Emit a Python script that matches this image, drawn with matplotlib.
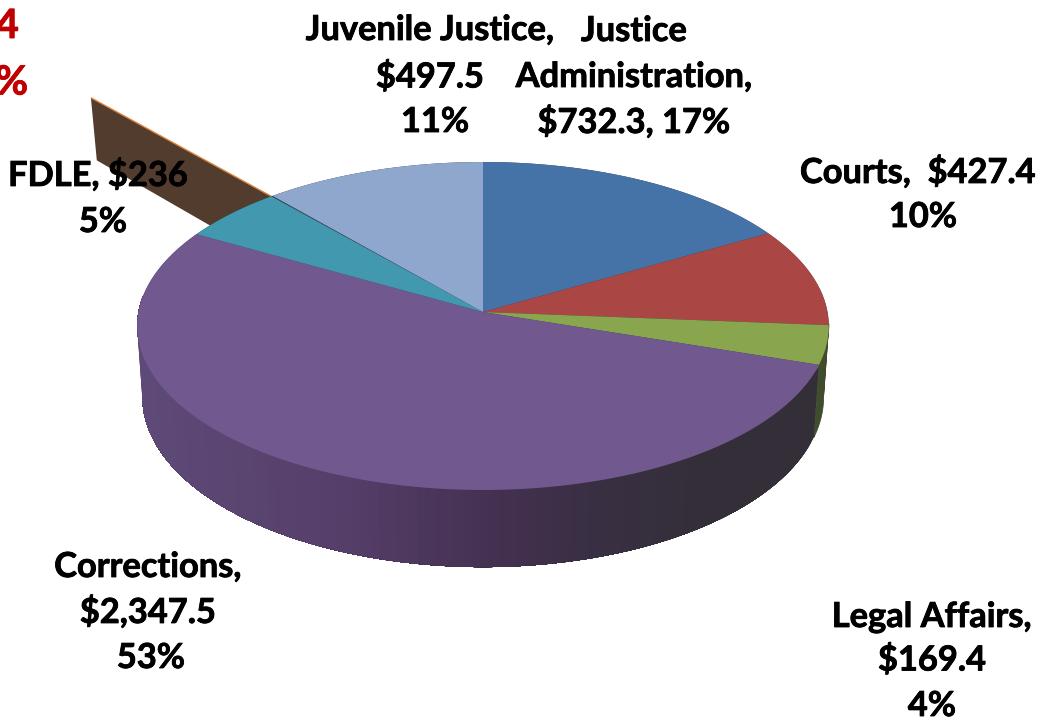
import numpy as np
import matplotlib
matplotlib.use("Agg")
import matplotlib.pyplot as plt
import matplotlib.patheffects as pe
from matplotlib.colors import LinearSegmentedColormap

# ---- data ----
categories = ["Justice Administration", "Courts", "Legal Affairs", "Corrections",
              "FDLE", "Other", "Juvenile Justice"]
values = [732.3, 427.4, 169.4, 2347.5, 236.0, 3.4, 497.5]
label_lines = [
    ["Justice", "Administration,", "$732.3, 17%"],
    ["Courts,  $427.4", "10%"],
    ["Legal Affairs,", "$169.4", "4%"],
    ["Corrections,", "$2,347.5", "53%"],
    ["FDLE, $236", "5%"],
    ["$3.4", "0%"],
    ["Juvenile Justice,", "$497.5", "11%"],
]

# ---- styling and layout ----
top_colors = ["#4572A7", "#AA4643", "#89A54E", "#71588F", "#4198AF", "#DB843D", "#8FA6CD"]
wall_colors = ["#2A4468", "#6A2C2A", "#3F4D2C", None, "#265A68", "#523C2D", "#55627A"]
label_xy = [
    [(634, 31), (634, 77), (634, 122)],
    [(918, 172), (923, 217)],
    [(932, 617), (932, 660), (932, 706)],
    [(148, 567), (148, 612), (151, 658)],
    [(98, 175), (103, 222)],
    [(19, 26), (28, 83)],
    [(430, 30), (430, 77), (435, 122)],
]
ha_map = {5: "right"}
text_colors = {5: "#C00000"}
text_sizes = {5: 29}
FS = 24.8
CX, CY, RX, RY, K, DEPTH, SHRINK = 483.0, 312.0, 344.5, 162.8, 0.0854, 70.5, 0.985
EXPLODE = 0.96
HIGHLIGHT = 5

wall_cmap = LinearSegmentedColormap.from_list(
    "wall", [(0.0, "#5E4A78"), (0.16, "#5A4470"), (0.31, "#553E68"), (0.45, "#4A3559"),
             (0.55, "#42304F"), (0.68, "#392F42"), (0.85, "#332E38"), (1.0, "#332E37")])


def project(theta, r=1.0, lower=False):
    """Perspective view of a disc: angle in degrees, radius in disc units."""
    t = np.radians(theta)
    x = r * np.cos(t)
    y = r * np.sin(t)
    s = 1 + K * y
    X = RX * x / s
    Y = RY * y / s
    if lower:
        return CX + SHRINK * X, CY - Y + DEPTH / s
    return CX + X, CY - Y


fig = plt.figure(figsize=(10.38, 7.2), dpi=100, facecolor="white")
ax = fig.add_axes([0, 0, 1, 1])
ax.set_xlim(0, 1038)
ax.set_ylim(720, 0)
ax.axis("off")

vals = np.array(values)
edges = 90 - 360 * np.concatenate([[0], np.cumsum(vals)]) / vals.sum()
spans = list(zip(edges[:-1], edges[1:]))

# exploded wedge, behind everything
a0, a1 = spans[HIGHLIGHT]
rs = np.array([EXPLODE, 1 + EXPLODE])
xt, yt = project(np.full(2, a0), r=rs)
xb, yb = project(np.full(2, a0), r=rs, lower=True)
ax.fill(np.r_[xt, xb[::-1]], np.r_[yt, yb[::-1]], color=wall_colors[HIGHLIGHT], lw=0, zorder=1)
ax.plot(xt, yt, color=top_colors[HIGHLIGHT], lw=1.0, zorder=2, solid_capstyle="butt")

# dark base under the top surface, visible through the gap the wedge left
th = np.linspace(0, 360, 721)
bx, by = project(th)
ax.fill(bx, by, color="#2F3A4A", lw=0, zorder=3)

# outer wall, front half only
for i, (a, b) in enumerate(spans):
    lo, hi = b, a
    if hi > -4:
        hi = -4
    if lo < -186:
        lo = -186
    if lo >= hi:
        continue
    if wall_colors[i] is None:
        ts = np.linspace(hi, lo, 120)
        full = np.linspace(hi, lo, 360)
        # right to left, each piece runs on to the far end so no seams show
        for t0 in ts[:-1]:
            seg = full[full <= t0]
            xa, ya = project(seg)
            xc, yc = project(seg, lower=True)
            c = wall_cmap(np.clip((xa[0] - 140) / 680, 0, 1))
            ax.fill(np.r_[xa, xc[::-1]], np.r_[ya, yc[::-1]], color=c, lw=0, zorder=4)
    else:
        seg = np.linspace(hi, lo, 40)
        xa, ya = project(seg)
        xc, yc = project(seg, lower=True)
        ax.fill(np.r_[xa, xc[::-1]], np.r_[ya, yc[::-1]], color=wall_colors[i], lw=0.6, zorder=3.5)

# top surface
for i, (a, b) in enumerate(spans):
    if i == HIGHLIGHT:
        continue
    seg = np.linspace(a, b, max(4, int(abs(a - b) * 3)))
    xa, ya = project(seg)
    ax.fill(np.r_[CX, xa], np.r_[CY, ya], color=top_colors[i], lw=0, zorder=5)

# labels
for i, (lines, pts) in enumerate(zip(label_lines, label_xy)):
    col = text_colors.get(i, "black")
    for line, (x, y) in zip(lines, pts):
        t = ax.text(x, y, line, ha=ha_map.get(i, "center"), va="center",
                    fontsize=text_sizes.get(i, FS), fontweight="bold", family="Lato",
                    color=col, zorder=10)
        t.set_path_effects([pe.withStroke(linewidth=0.6, foreground=col)])

fig.savefig("out.png", dpi=100, facecolor="white")
